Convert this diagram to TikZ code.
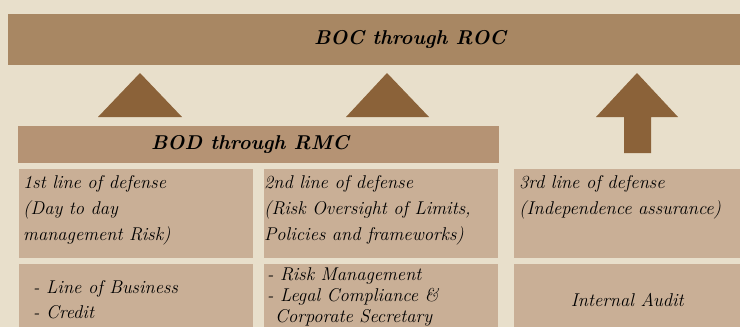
\documentclass[tikz,border=0pt]{standalone}
\usetikzlibrary{positioning}
\definecolor{paper}{HTML}{E8DFCB}
\definecolor{bocbrown}{HTML}{A88763}
\definecolor{bodbrown}{HTML}{B59374}
\definecolor{cellbrown}{HTML}{C9AF96}
\definecolor{arrowbrown}{HTML}{8B6239}
\tikzset{
    bar/.style={
           rectangle,
           fill=bocbrown,
           inner sep=0pt,
           anchor=north west,
           },
    cell/.style={
           rectangle,
           fill=cellbrown,
           inner sep=0pt,
           minimum width=234pt,
           anchor=north west,
           },
    title/.style={font=\fontsize{20}{24}\selectfont\bfseries\itshape, inner sep=0pt},
    lbl/.style={font=\fontsize{18.5}{26}\selectfont\itshape, align=left, inner sep=0pt, anchor=north west},
    pointer/.style={fill=arrowbrown},
}
\newcommand{\dashitem}[1]{- #1}

\begin{document}
\begin{tikzpicture}[x=1pt, y=-1pt]
  \fill[paper] (0,0) rectangle (740,327);
  \useasboundingbox (0,0) rectangle (740,327);

  % top bar and the board level bar
  \node[bar, minimum width=732pt, minimum height=51pt]                 (BOC) at (8, 14) {};
  \node[bar, fill=bodbrown, minimum width=481pt, minimum height=37pt] (BOD) at (18, 126) {};
  \node[title] (BOCtext) at (410, 39)  {BOC through ROC};
  \node[title] (BODtext) at (250, 144) {BOD through RMC};

  % pointers up to the top bar
  \fill[pointer] (98, 117) -- (140, 73) -- (182, 117) -- cycle;
  \fill[pointer] (346, 117) -- (387, 73) -- (429, 117) -- cycle;
  \fill[pointer] (596, 117) -- (637, 73) -- (678, 117) -- (651, 117)
                 -- (651, 153) -- (624, 153) -- (624, 117) -- cycle;

  % the three lines of defense
  \node[cell, minimum height=89pt]                    (L1) at (19, 169)  {};
  \node[cell, minimum height=89pt]                    (L2) at (264, 169) {};
  \node[cell, minimum height=89pt, minimum width=226pt] (L3) at (514, 169) {};
  \node[cell, minimum height=63pt]                    (U1) at (19, 264)  {};
  \node[cell, minimum height=63pt]                    (U2) at (264, 264) {};
  \node[cell, minimum height=63pt, minimum width=226pt] (U3) at (514, 264) {};

  \node[lbl] (L1text) at ([xshift=4pt, yshift=-6pt]L1.north west)
        {1st line of defense\\(Day to day\\management Risk)};
  \node[lbl] (L2text) at ([xshift=0pt, yshift=-6pt]L2.north west)
        {2nd line of defense\\(Risk Oversight of Limits,\\Policies and frameworks)};
  \node[lbl] (L3text) at ([xshift=5pt, yshift=-6pt]L3.north west)
        {3rd line of defense\\(Independence assurance)};

  \node[lbl, font=\fontsize{18.5}{25}\selectfont\itshape] (U1text) at ([xshift=14pt, yshift=-16pt]U1.north west)
        {\dashitem{Line of Business}\\\dashitem{Credit}};
  \node[lbl, font=\fontsize{18.5}{21}\selectfont\itshape] (U2text) at ([xshift=3pt, yshift=-3pt]U2.north west)
        {\dashitem{Risk Management}\\\dashitem{Legal Compliance \&}\\\hspace{8pt}Corporate Secretary};
  \node[lbl, anchor=center] (U3text) at ([yshift=-4pt]U3.center) {Internal Audit};
\end{tikzpicture}
\end{document}
